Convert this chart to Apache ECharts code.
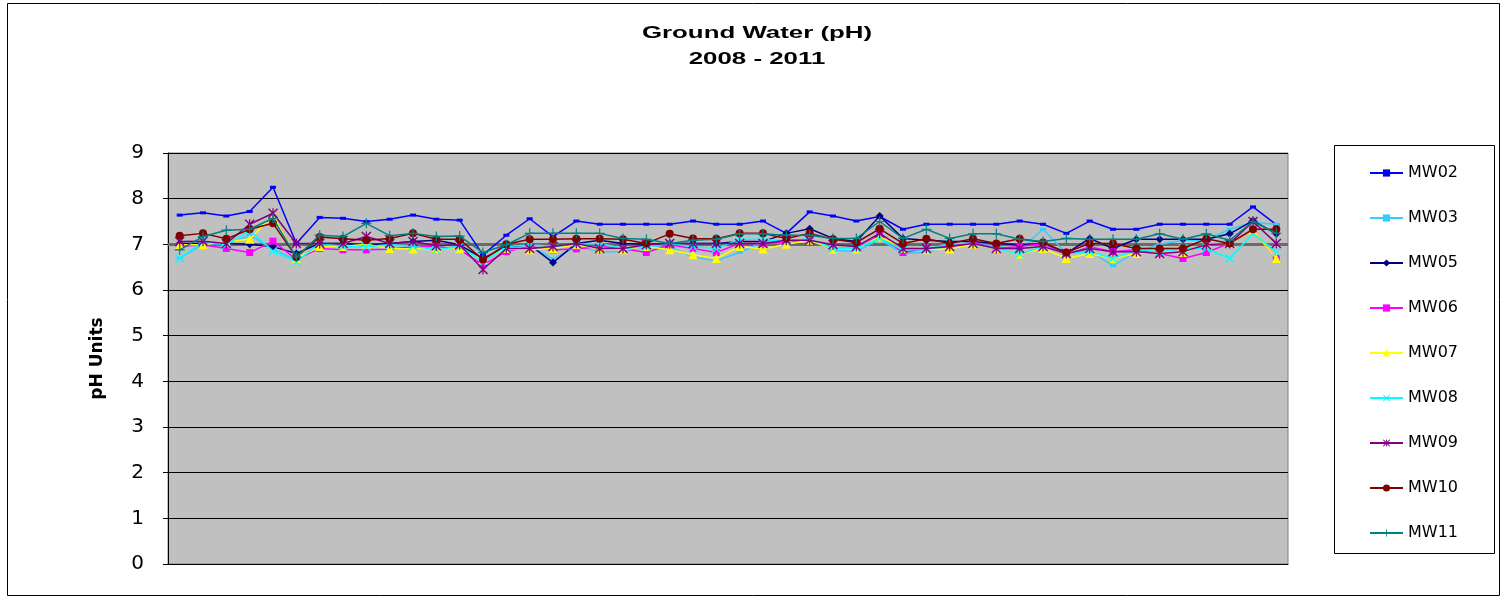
<!DOCTYPE html>
<html>
<head>
<meta charset="utf-8">
<title>Ground Water (pH) 2008 - 2011</title>
<script src="https://cdn.jsdelivr.net/npm/echarts@6/dist/echarts.min.js"></script>
<style>
  html, body { margin: 0; padding: 0; background: #fff; }
  #chart { width: 1506px; height: 599px; }
</style>
</head>
<body>
<div id="chart"></div>
<script>
// Sampling events (48 rounds, 2008 - 2011)
const categories = ['1','2','3','4','5','6','7','8','9','10','11','12','13','14','15','16',
  '17','18','19','20','21','22','23','24','25','26','27','28','29','30','31','32',
  '33','34','35','36','37','38','39','40','41','42','43','44','45','46','47','48'];

const yTicks = [0, 1, 2, 3, 4, 5, 6, 7, 8, 9];

const MW02 = [7.64,7.69,7.62,7.72,8.25,7.02,7.59,7.57,7.50,7.55,7.64,7.55,7.53,6.77,7.20,7.56,
  7.17,7.51,7.44,7.44,7.44,7.44,7.51,7.44,7.44,7.51,7.24,7.71,7.62,7.51,7.61,7.33,
  7.44,7.44,7.44,7.44,7.51,7.44,7.24,7.51,7.33,7.33,7.44,7.44,7.44,7.44,7.82,7.43];
const MW03 = [6.70,7.00,7.00,7.20,6.90,6.65,7.00,6.95,6.95,6.98,6.97,6.90,6.95,6.62,6.95,6.98,
  6.68,6.95,6.84,6.84,6.95,6.95,6.72,6.64,6.82,7.05,7.02,7.10,6.88,6.84,7.11,6.80,
  6.82,6.98,7.04,6.95,6.88,7.33,6.80,6.86,6.53,6.84,7.00,7.09,7.09,7.33,7.48,7.44];
const MW05 = [7.02,7.02,7.02,7.00,6.95,6.80,7.02,7.02,6.99,7.02,7.06,7.09,6.99,6.69,6.95,6.99,
  6.60,7.02,7.09,7.02,7.00,7.02,7.02,7.02,7.06,7.06,7.24,7.34,7.13,7.06,7.62,7.13,
  7.09,7.06,7.06,7.02,6.99,7.02,6.80,7.13,6.91,7.11,7.11,7.11,7.11,7.23,7.52,7.23];
const MW06 = [6.95,6.99,6.91,6.82,7.07,6.67,6.91,6.88,6.88,6.89,6.95,6.95,6.88,6.55,6.84,6.95,
  6.88,6.90,6.95,6.91,6.82,6.99,6.91,6.82,7.02,7.02,7.05,7.10,6.91,6.91,7.20,6.82,
  6.91,6.96,7.04,6.91,6.95,7.02,6.77,6.95,6.84,6.88,6.80,6.69,6.82,7.02,7.31,6.69];
const MW07 = [6.99,6.99,7.06,7.11,7.64,6.69,6.95,6.95,7.00,6.91,6.90,6.91,6.90,6.66,6.91,6.88,
  6.91,6.99,6.91,6.88,6.95,6.88,6.77,6.69,6.95,6.90,7.00,7.09,6.90,6.90,7.17,6.91,
  6.88,6.90,7.00,6.91,6.79,6.91,6.69,6.80,6.69,6.80,6.84,6.82,7.00,7.02,7.31,6.69];
const MW08 = [6.69,7.06,6.99,7.31,6.85,6.62,7.02,6.95,6.95,6.99,6.96,6.88,6.95,6.62,6.95,6.99,
  6.95,7.00,7.02,6.91,6.95,7.02,6.95,6.91,7.11,7.11,7.06,7.13,6.91,6.91,7.13,6.88,
  6.88,7.02,7.02,6.91,6.79,6.95,6.80,6.84,6.69,6.88,6.84,6.91,6.91,6.69,7.24,6.84];
const MW09 = [7.06,7.07,7.02,7.44,7.68,7.02,7.02,7.02,7.17,7.02,7.06,6.97,6.99,6.45,6.91,6.91,
  6.95,7.02,6.91,6.91,6.99,7.02,7.02,7.02,7.02,7.02,7.09,7.09,6.99,6.95,7.24,6.91,
  6.91,6.95,7.02,6.91,6.91,6.95,6.80,6.91,6.84,6.84,6.80,6.84,6.99,7.02,7.50,7.02];
const MW10 = [7.19,7.24,7.12,7.33,7.46,6.72,7.16,7.12,7.09,7.13,7.24,7.11,7.11,6.66,7.00,7.11,
  7.11,7.12,7.12,7.11,7.02,7.23,7.13,7.12,7.24,7.24,7.13,7.24,7.11,7.04,7.34,7.02,
  7.12,7.02,7.12,7.02,7.12,7.04,6.82,7.02,7.02,6.91,6.91,6.91,7.12,7.02,7.33,7.33];
const MW11 = [6.88,7.17,7.31,7.33,7.57,6.72,7.20,7.17,7.46,7.19,7.24,7.17,7.18,6.82,6.99,7.24,
  7.24,7.24,7.24,7.13,7.11,7.02,7.09,7.11,7.23,7.23,7.20,7.20,7.13,7.13,7.50,7.13,
  7.33,7.13,7.23,7.23,7.11,7.06,7.13,7.11,7.11,7.11,7.23,7.11,7.23,7.09,7.50,7.24];

// Marker shapes not built into ECharts
const SYM_X = 'path://M0,1L1,0L5,4L9,0L10,1L6,5L10,9L9,10L5,6L1,10L0,9L4,5Z';
const SYM_PLUS = 'path://M4.4,0H5.6V4.4H10V5.6H5.6V10H4.4V5.6H0V4.4H4.4Z';
const SYM_STAR = 'path://M0,1L1,0L5,4L9,0L10,1L6,5L10,9L9,10L5,6L1,10L0,9L4,5ZM4.4,0H5.6V10H4.4Z';

const wells = [
  { name: 'MW02', data: MW02, color: '#0000FF', symbol: 'rect', size: [6, 3] },
  { name: 'MW03', data: MW03, color: '#33CCFF', symbol: 'rect', size: [6, 3] },
  { name: 'MW05', data: MW05, color: '#000080', symbol: 'diamond', size: 8 },
  { name: 'MW06', data: MW06, color: '#FF00FF', symbol: 'rect', size: 7 },
  { name: 'MW07', data: MW07, color: '#FFFF00', symbol: 'triangle', size: 9 },
  { name: 'MW08', data: MW08, color: '#00FFFF', symbol: SYM_X, size: 9 },
  { name: 'MW09', data: MW09, color: '#800080', symbol: SYM_STAR, size: 10 },
  { name: 'MW10', data: MW10, color: '#800000', symbol: 'circle', size: 8 },
  { name: 'MW11', data: MW11, color: '#008080', symbol: SYM_PLUS, size: 10 }
];

const FONT = '"Liberation Sans", Arial, sans-serif';
const WIDE = '"DejaVu Sans", sans-serif';

const series = wells.map((w, i) => ({
  name: w.name,
  type: 'line',
  data: w.data,
  symbol: w.symbol,
  symbolSize: w.size,
  showAllSymbol: true,
  animation: false,
  lineStyle: { color: w.color, width: 1.5 },
  itemStyle: { color: w.color, borderWidth: 0 },
  emphasis: { disabled: true },
  z: 3 + i,
  // neutral pH reference line
  markLine: i === 0 ? {
    silent: true,
    symbol: 'none',
    label: { show: false },
    lineStyle: { color: '#6b6b6b', width: 3, type: 'solid' },
    data: [{ yAxis: 7 }],
    z: 2
  } : undefined
}));

const chart = echarts.init(document.getElementById('chart'), null, { renderer: 'canvas' });

chart.setOption({
  animation: false,
  backgroundColor: '#FFFFFF',
  grid: {
    left: 168, top: 153, width: 1120, height: 411,
    show: true, backgroundColor: '#C0C0C0', borderColor: '#808080', borderWidth: 1
  },
  graphic: [
    { type: 'rect', z: 0, silent: true,
      shape: { x: 7.5, y: 3.5, width: 1492, height: 592 },
      style: { fill: 'none', stroke: '#000', lineWidth: 1 } },
    { type: 'rect', z: 1, silent: true,
      shape: { x: 1334.5, y: 145.5, width: 160, height: 408 },
      style: { fill: '#fff', stroke: '#000', lineWidth: 1 } },
    { type: 'text', z: 10, x: 757, y: 33, scaleX: 1.52, silent: true,
      style: { text: 'Ground Water (pH)', font: 'bold 17px ' + FONT, fill: '#000',
               align: 'center', verticalAlign: 'middle' } },
    { type: 'text', z: 10, x: 757, y: 59, scaleX: 1.52, silent: true,
      style: { text: '2008 - 2011', font: 'bold 17px ' + FONT, fill: '#000',
               align: 'center', verticalAlign: 'middle' } }
  ],
  legend: {
    orient: 'vertical',
    left: 1369, top: 165,
    padding: 0,
    itemWidth: 33, itemHeight: 9, itemGap: 29,
    z: 5,
    selectedMode: false,
    textStyle: { fontFamily: WIDE, fontSize: 16, color: '#000' },
    data: wells.map(w => w.name)
  },
  xAxis: {
    type: 'category',
    data: categories,
    boundaryGap: true,
    axisLine: { lineStyle: { color: '#000', width: 1 } },
    axisTick: { show: false },
    axisLabel: { show: false },
    splitLine: { show: false }
  },
  yAxis: {
    type: 'value',
    min: yTicks[0], max: yTicks[yTicks.length - 1], interval: 1,
    name: 'pH Units',
    nameLocation: 'middle',
    nameRotate: 90,
    nameGap: 62,
    nameTextStyle: { fontFamily: WIDE, fontWeight: 'bold', fontSize: 17, color: '#000' },
    axisLine: { show: true, lineStyle: { color: '#000', width: 1 } },
    axisTick: { show: true, inside: false, length: 5, lineStyle: { color: '#000' } },
    axisLabel: { fontFamily: WIDE, fontSize: 20, color: '#000', margin: 24 },
    splitLine: { show: true, lineStyle: { color: '#000', width: 1 } }
  },
  series: series
});
</script>
</body>
</html>
